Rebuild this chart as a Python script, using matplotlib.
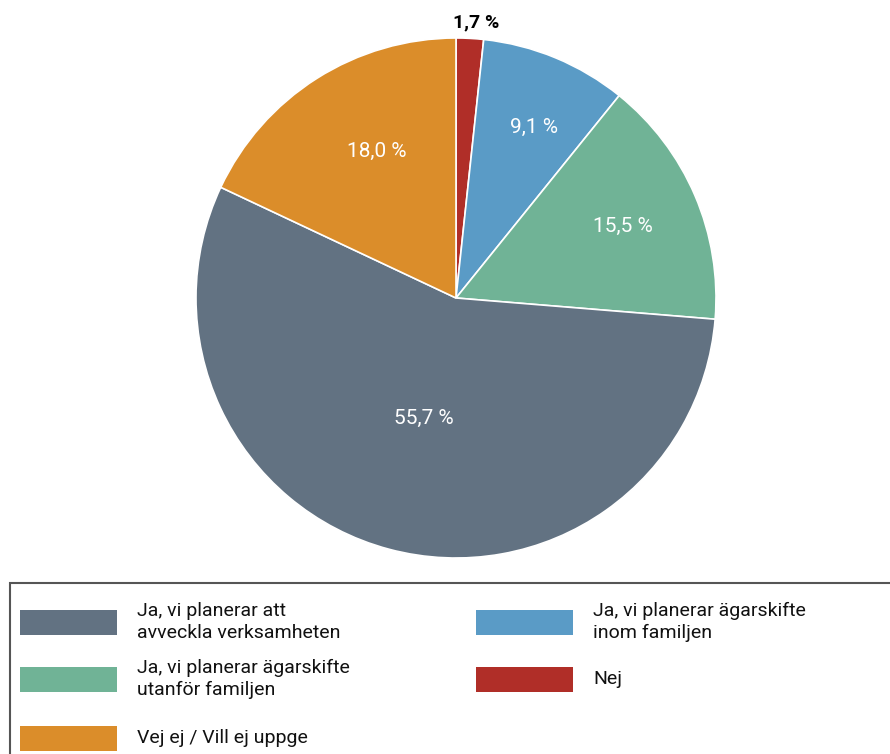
import numpy as np
import matplotlib.pyplot as plt
from matplotlib.patches import Rectangle

plt.rcParams['font.family'] = ['Roboto', 'DejaVu Sans']

# data, clockwise from top
kategorier = ["Nej",
              "Ja, vi planerar ägarskifte\ninom familjen",
              "Ja, vi planerar ägarskifte\nutanför familjen",
              "Ja, vi planerar att\navveckla verksamheten",
              "Vej ej / Vill ej uppge"]
andel = [1.7, 9.1, 15.5, 55.7, 18.0]
etiketter = ["1,7 %", "9,1 %", "15,5 %", "55,7 %", "18,0 %"]
farger = ["#B02E28", "#5A9BC6", "#70B396", "#627282", "#DB8D2A"]

fig = plt.figure(figsize=(8.9, 7.54), dpi=100)
W, H = 890, 754
cx, cy, R = 456, 298, 260
ax = fig.add_axes([(cx - R) / W, 1 - (cy + R) / H, 2 * R / W, 2 * R / H])

wedges, _ = ax.pie(andel, colors=farger, startangle=90, counterclock=False,
                   wedgeprops=dict(edgecolor="white", linewidth=1.2))
ax.set_xlim(-1, 1)
ax.set_ylim(-1, 1)
ax.set_aspect("equal")

# label placement (radius, small angle shift)
radie = [1.06, 0.72, 0.70, 0.48, 0.64]
skift = [0, -2, 0, 0, -4]
for i, (w, txt, r, s) in enumerate(zip(wedges, etiketter, radie, skift)):
    vinkel = np.deg2rad((w.theta1 + w.theta2) / 2 + s)
    x, y = r * np.cos(vinkel), r * np.sin(vinkel)
    if i == 0:
        ax.text(x + 0.02, y, txt, ha="center", va="center", fontsize=14,
                fontweight="bold", color="black")
    else:
        ax.text(x, y, txt, ha="center", va="center", fontsize=15, color="white")

# legend box
fig.patches.append(Rectangle((10 / W, -0.01), 900 / W, 1.01 - 583 / H, transform=fig.transFigure,
                             fill=False, edgecolor="#555555", linewidth=1.5))

# legend entries (col x, row y center) in pixels
ordning = [3, 1, 2, 0, 4]
platser = [(20, 622), (476, 622), (20, 679), (476, 679), (20, 738)]
for i, (px, py) in zip(ordning, platser):
    fig.patches.append(Rectangle((px / W, 1 - (py + 12.5) / H), 97 / W, 25 / H,
                                 transform=fig.transFigure, facecolor=farger[i],
                                 edgecolor="none"))
    fig.text((px + 117) / W, 1 - py / H, kategorier[i], ha="left", va="center",
             fontsize=14, linespacing=1.25, color="#111111")

fig.savefig("out.png", dpi=100)
